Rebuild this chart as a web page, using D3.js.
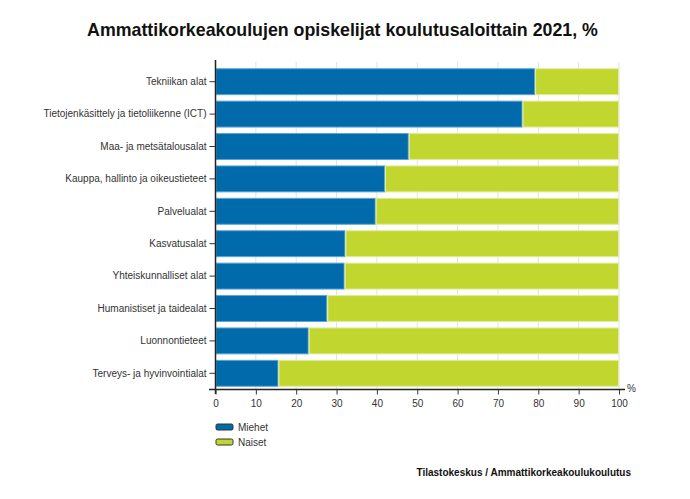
<!DOCTYPE html>
<html><head><meta charset="utf-8">
<script src="https://cdn.jsdelivr.net/npm/d3@7"></script>
<style>body{margin:0;background:#fff;} text{font-family:"Liberation Sans",Arial,sans-serif;}</style>
</head><body>
<svg id="c" width="690" height="499"></svg>
<script>
const categories = ["Tekniikan alat","Tietojenkäsittely ja tietoliikenne (ICT)","Maa- ja metsätalousalat","Kauppa, hallinto ja oikeustieteet","Palvelualat","Kasvatusalat","Yhteiskunnalliset alat","Humanistiset ja taidealat","Luonnontieteet","Terveys- ja hyvinvointialat"];
const miehet = [79.2, 76.1, 47.9, 42.0, 39.7, 32.2, 32.0, 27.7, 23.1, 15.6];
const naiset = [20.8, 23.9, 52.1, 58.0, 60.3, 67.8, 68.0, 72.3, 76.9, 84.4];
const seriesNames = ["Miehet","Naiset"];
const colors = ["#006aaa","#c1d72f"];
const strokes = ["#5aa5d6","#e0ec9a"];
const xTicks = [0,10,20,30,40,50,60,70,80,90,100];

const svg = d3.select("#c");
const x = d3.scaleLinear().domain([0,100]).range([215.5,619]);
const y = d3.scaleBand().domain(categories).range([65.5,389.5]).paddingInner(0.2).paddingOuter(0.1);

svg.append("text").attr("x",342.5).attr("y",36).attr("text-anchor","middle")
  .style("font-size","17.8px").style("font-weight","bold").attr("fill","#111")
  .text("Ammattikorkeakoulujen opiskelijat koulutusaloittain 2021, %");

// grid
svg.append("g").selectAll("line").data(xTicks.slice(1)).join("line")
  .attr("x1",d=>x(d)).attr("x2",d=>x(d)).attr("y1",62).attr("y2",389.5)
  .attr("stroke","#e2e2e2").attr("stroke-width",1);

const stacked = d3.stack().keys([0,1])(categories.map((c,i)=>({cat:c,0:miehet[i],1:naiset[i]})));
stacked.forEach((s,k)=>{
  svg.append("g").selectAll("rect").data(s).join("rect")
    .attr("x",d=>x(d[0])+0.5).attr("width",d=>x(d[1])-x(d[0])-1)
    .attr("y",d=>y(d.data.cat)).attr("height",y.bandwidth())
    .attr("fill",colors[k]).attr("stroke",strokes[k]).attr("stroke-width",1);
});

// y axis
const ya = svg.append("g").attr("transform","translate(215.5,0)")
  .call(d3.axisLeft(y).tickSize(6).tickPadding(3));
ya.select(".domain").attr("d","M0,60V394").attr("stroke","#222").attr("stroke-width",1.5);
ya.selectAll(".tick line").attr("stroke","#333");
ya.selectAll(".tick text").style("font-size","10px").attr("fill","#333");

// x axis
const xa = svg.append("g").attr("transform","translate(0,389.5)")
  .call(d3.axisBottom(x).tickValues(xTicks).tickSize(5).tickPadding(5));
xa.select(".domain").attr("d","M209,0H625").attr("stroke","#222").attr("stroke-width",1.5);
xa.selectAll(".tick line").attr("stroke","#333");
xa.selectAll(".tick text").style("font-size","10px").attr("fill","#333");
svg.append("text").attr("x",627).attr("y",392).style("font-size","10px").attr("fill","#333").text("%");

// legend
const lg = svg.append("g");
seriesNames.forEach((n,i)=>{
  lg.append("rect").attr("x",216).attr("y",424+i*15).attr("width",17).attr("height",6)
    .attr("rx",1.5).attr("fill",colors[i]).attr("stroke","#333").attr("stroke-width",1);
  lg.append("text").attr("x",238).attr("y",431+i*15).style("font-size","10px").attr("fill","#333").text(n);
});

svg.append("text").attr("x",631).attr("y",476).attr("text-anchor","end")
  .style("font-size","10px").style("font-weight","bold").attr("fill","#111")
  .text("Tilastokeskus / Ammattikorkeakoulukoulutus");
</script>
</body></html>
